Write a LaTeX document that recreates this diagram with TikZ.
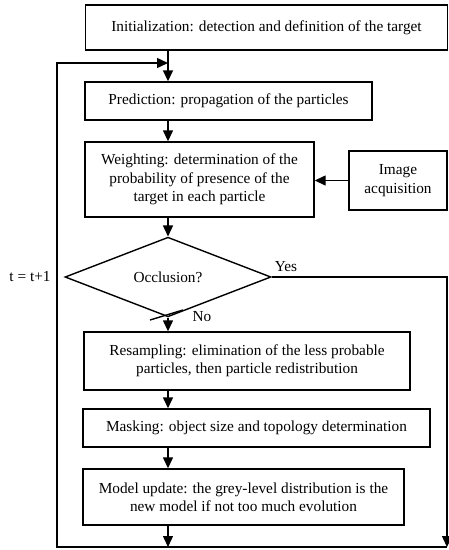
\documentclass[tikz,border=0pt]{standalone}
\usepackage{fontspec}
\setmainfont{Liberation Serif}
\usetikzlibrary{arrows.meta,shapes.geometric}
\begin{document}
\begin{tikzpicture}[x=1pt,y=-1pt,
  every node/.style={font=\fontsize{15.3}{18.4}\selectfont},
  box/.style={draw,line width=1.4pt,inner sep=0pt,align=center},
  arr/.style={line width=1.4pt,-{Triangle[length=11pt,width=10pt]}},
  ln/.style={line width=1.4pt},
  lbl/.style={inner sep=0pt}]
\useasboundingbox (0,0) rectangle (449,550);
\node[box,minimum width=362pt,minimum height=45pt] (init) at (266.5,27.5) {Initialization: detection and definition of the target};
\node[box,minimum width=287pt,minimum height=38pt] (pred) at (228.5,101) {Prediction: propagation of the particles};
\node[box,minimum width=229pt,minimum height=75pt] (weig) at (199.5,179.5) {Weighting: determination of the\\probability of presence of the\\target in each particle};
\node[box,minimum width=98pt,minimum height=59pt] (img) at (398,180.5) {Image\\acquisition};
\node[draw,line width=1.4pt,shape=diamond,inner sep=0pt,minimum width=206pt,minimum height=64pt] (occ) at (168,277) {Occlusion?};
\node[box,minimum width=326pt,minimum height=58pt] (res) at (247,361) {Resampling: elimination of the less probable\\particles, then particle redistribution};
\node[box,minimum width=347pt,minimum height=38pt] (mask) at (256.5,428) {Masking: object size and topology determination};
\node[box,minimum width=321pt,minimum height=56pt] (mu) at (243.5,497) {Model update: the grey-level distribution is the\\new model if not too much evolution};
\node[lbl] (yes) at (286,267) {Yes};
\node[lbl] (no) at (202,317) {No};
\node[lbl] (tt) at (30,277) {t = t+1};
\coordinate (top) at (168,63);
\coordinate (tl) at (57,63);
\coordinate (bl) at (57,547);
\coordinate (bm) at (168,547);
\coordinate (br) at (447,547);
\coordinate (sA) at (150,320);
\coordinate (sB) at (183,310);
\draw[arr] (init.south -| occ.north) -- (pred.north -| occ.north);
\draw[arr] (pred.south -| occ.north) -- (weig.north -| occ.north);
\draw[arr] (img.west) -- (weig.east |- img.west);
\draw[arr] (weig.south -| occ.north) -- (occ.north);
\draw[arr] (occ.south) -- (res.north -| occ.south);
\draw[arr] (res.south -| occ.south) -- (mask.north -| occ.south);
\draw[arr] (mask.south -| occ.south) -- (mu.north -| occ.south);
\draw[arr] (mu.south -| occ.south) -- (bm);
\draw[arr] (occ.east) -| (br);
\draw[arr] (br) -- (bl) -- (tl) -- (top);
\draw[ln] (sA) -- (sB);
\end{tikzpicture}
\end{document}
